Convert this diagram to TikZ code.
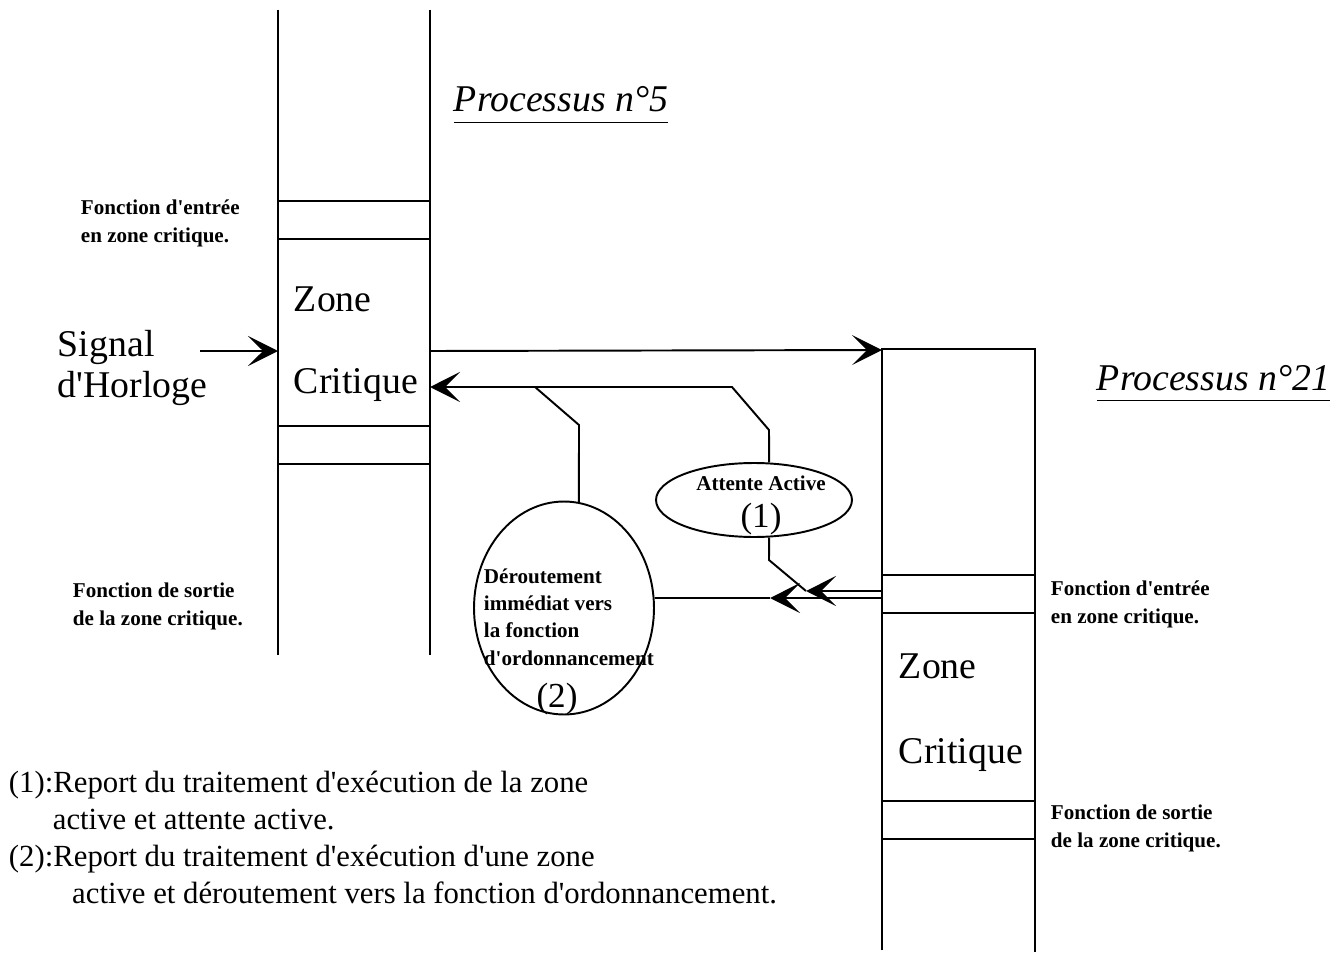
\documentclass[tikz,border=0pt]{standalone}
\usepackage{fontspec}
\setmainfont{Liberation Serif}[Ligatures=TeXOff]
\usetikzlibrary{arrows.meta,shapes.geometric}

\tikzset{
  lbl/.style={font=\bfseries\fontsize{12}{15.4}\selectfont, align=left, anchor=base west, inner sep=0pt},
  grand/.style={font=\fontsize{21.5}{23}\selectfont, align=left, anchor=base west, inner sep=0pt},
  titre/.style={font=\itshape\fontsize{21.5}{26}\selectfont, anchor=base west, inner sep=0pt},
  note/.style={font=\fontsize{17.5}{21}\selectfont, align=left, anchor=base west, inner sep=0pt},
  fleche/.style={-{Stealth[length=0.6cm,width=0.6cm,inset=0.3cm]}},
  bulle/.style={draw, ellipse, inner sep=0pt},
}

\begin{document}
\begin{tikzpicture}[x=0.02cm, y=-0.02cm, line width=1.1pt]
\useasboundingbox (0,0) rectangle (1343,953);

% processus 5
\draw (278,10) -- (278,655);
\draw (430,10) -- (430,655);
\foreach \y in {201,239,426,464} \draw (278,\y) -- (430,\y);

% processus 21
\draw (882,950) -- (882,349) -- (1035,349) -- (1035,952);
\foreach \y in {575,613,801,839} \draw (882,\y) -- (1035,\y);

\coordinate (horloge) at (200,351);
\coordinate (p5in) at (278,351);
\coordinate (p5out) at (430,351);
\coordinate (p21in) at (882,350);
\coordinate (p5ret) at (430,387);
\coordinate (jonction) at (535,387);
\coordinate (p21a) at (882,591);
\coordinate (p21b) at (882,598);
\coordinate (pointe1) at (806,591);
\coordinate (pointe2) at (770,598);

\node [titre] (titre5) at (453,112) {\underline{Processus n°5\vphantom{p}}};
\node [titre] (titre21) at (1096,390) {\underline{Processus n°21\vphantom{p}}};

\node [grand] (zone5) at (293,311) {Zone};
\node [grand] (crit5) at (293,393) {Critique};
\node [grand] (zone21) at (898,678) {Zone};
\node [grand] (crit21) at (898,763) {Critique};
\node [grand] (signal) at (57,397) {Signal\\d'Horloge};

% les textes sur deux lignes sont posés sur la ligne du bas
\node [lbl] (entree5) at (80,242) {Fonction d'entrée\\en zone critique.};
\node [lbl] (sortie5) at (72,625) {Fonction de sortie\\de la zone critique.};
\node [lbl] (entree21) at (1050,623) {Fonction d'entrée\\en zone critique.};
\node [lbl] (sortie21) at (1050,847) {Fonction de sortie\\de la zone critique.};

\node [bulle, minimum width=3.92cm, minimum height=1.48cm] (attente) at (754,500) {};
\node [lbl, anchor=base] (attente-txt) at (761,490) {Attente Active};
\node [grand, font=\fontsize{20}{22}\selectfont, anchor=base] (attente-num) at (761,527) {(1)};

\node [bulle, minimum width=3.6cm, minimum height=4.26cm] (deroute) at (564,608) {};
\node [lbl] (deroute-txt) at (483,665) {Déroutement\\immédiat vers\\la fonction\\d'ordonnancement};
\node [grand, font=\fontsize{20}{22}\selectfont, anchor=base] (deroute-num) at (557,707) {(2)};

\node [note] (note1) at (8,829) {(1):Report du traitement d'exécution de la zone\\\hspace*{25pt}active et attente active.};
\node [note] (note2) at (8,903) {(2):Report du traitement d'exécution d'une zone\\\hspace*{36pt}active et déroutement vers la fonction d'ordonnancement.};

% liaisons
\draw[fleche] (horloge) -- (p5in);
\draw[fleche] (p5out) -- (p21in);
\draw[fleche] (attente.68) -- (769,430) -- (732,387) -- (p5ret);
\draw (jonction) -- (579,425) -- (deroute.82);
\draw[fleche] (p21a) -- (pointe1);
\draw (pointe1) -- (769,560) -- (attente.-68);
\draw[fleche] (p21b) -- (pointe2);
\draw (pointe2) -- (pointe2 -| deroute.east);

\end{tikzpicture}
\end{document}
